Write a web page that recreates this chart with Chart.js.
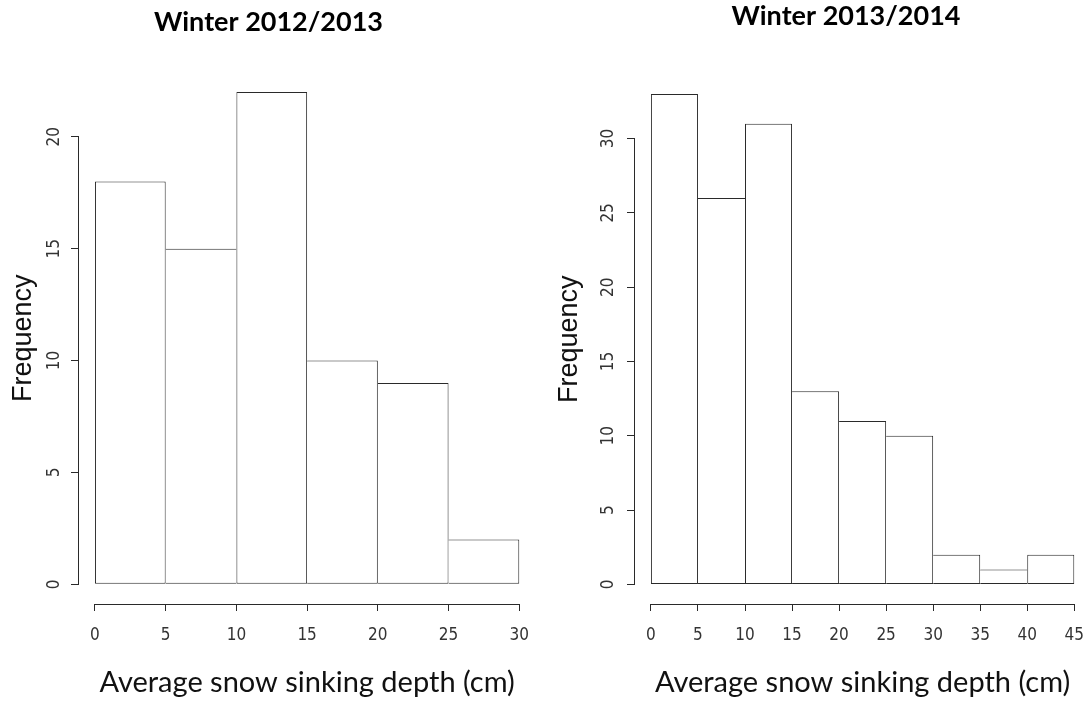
<!DOCTYPE html>
<html>
<head>
<meta charset="utf-8">
<script src="https://cdn.jsdelivr.net/npm/chart.js@4.4.1/dist/chart.umd.min.js"></script>
<style>
  html, body { margin: 0; padding: 0; background: #fff; }
  #wrap { position: relative; width: 1092px; height: 708px; }
  canvas { position: absolute; top: 0; }
  #left { left: 0; }
  #right { left: 546px; }
</style>
</head>
<body>
<div id="wrap">
  <canvas id="left" width="537" height="708"></canvas>
  <canvas id="right" width="546" height="708"></canvas>
</div>
<script>
// histogram breaks and counts
const breaks1213 = [0, 5, 10, 15, 20, 25, 30]
const counts1213 = [18, 15, 22, 10, 9, 2]
const breaks1314 = [0, 5, 10, 15, 20, 25, 30, 35, 40, 45]
const counts1314 = [33, 26, 31, 13, 11, 10, 2, 1, 2]

const lineColor = "#2a2a2a"
const tickFont = { family: "'Liberation Sans Narrow', 'DejaVu Sans Condensed', 'Liberation Sans', Arial, sans-serif", size: 17, lineHeight: 2 }

function align(p) {
    return Math.round(p - 0.5) + 0.5
}

// R style axes: the line only runs from the first to the last tick
const rAxes = {
    id: "rAxes",
    afterDraw(chart) {
        const ctx = chart.ctx
        const x = chart.scales.x
        const y = chart.scales.y
        const xt = x.ticks
        const yt = y.ticks
        ctx.save()
        ctx.strokeStyle = lineColor
        ctx.lineWidth = 1
        ctx.lineCap = "square"
        ctx.beginPath()
        ctx.moveTo(align(x.getPixelForValue(xt[0].value)), align(x.top))
        ctx.lineTo(align(x.getPixelForValue(xt[xt.length - 1].value)), align(x.top))
        ctx.moveTo(align(y.right), align(y.getPixelForValue(yt[0].value)))
        ctx.lineTo(align(y.right), align(y.getPixelForValue(yt[yt.length - 1].value)))
        ctx.stroke()
        ctx.restore()
    }
}

function makeHist(canvasId, title, breaks, counts, opt) {
    const data = counts.map((c, i) => ({ x: (breaks[i] + breaks[i + 1]) / 2, y: c }))
    const xPad = 0.04 * (breaks[breaks.length - 1] - breaks[0])
    const yPad = 0.04 * Math.max(...counts)
    const grid = { display: true, drawOnChartArea: false, drawTicks: true, tickLength: 7, color: lineColor, offset: false }

    return new Chart(document.getElementById(canvasId), {
        type: "bar",
        data: {
            datasets: [{
                data: data,
                backgroundColor: "#ffffff",
                borderColor: lineColor,
                borderSkipped: false,
                inflateAmount: 0,
                barPercentage: 1,
                categoryPercentage: 1,
                // shared edges drawn once, by the taller bar
                borderWidth: (c) => {
                    const i = c.dataIndex
                    return {
                        top: 1,
                        bottom: 1,
                        left: (i === 0 || counts[i] >= counts[i - 1]) ? 1 : 0,
                        right: (i === counts.length - 1 || counts[i] > counts[i + 1]) ? 1 : 0
                    }
                }
            }]
        },
        options: {
            responsive: false,
            animation: false,
            layout: { padding: { left: opt.padLeft, right: 0, top: 0, bottom: 0 } },
            plugins: {
                legend: { display: false },
                tooltip: { enabled: false },
                title: {
                    display: true,
                    text: title,
                    color: "#000",
                    font: { family: "Lato, 'Open Sans', sans-serif", size: 27, weight: "bold" },
                    padding: { top: opt.titleTop, bottom: opt.titleBottom }
                }
            },
            scales: {
                x: {
                    type: "linear",
                    offset: false,
                    min: breaks[0] - xPad,
                    max: breaks[breaks.length - 1] + xPad,
                    afterFit: (s) => { s.height = 104 },
                    grid: grid,
                    border: { display: false },
                    ticks: { stepSize: 5, includeBounds: false, autoSkip: false, maxRotation: 0, padding: 8, color: "#333", font: tickFont },
                    title: {
                        display: true,
                        text: "Average snow sinking depth (cm)",
                        color: "#111",
                        font: { family: "Lato, 'Open Sans', sans-serif", size: 29 },
                        padding: { bottom: 8 }
                    }
                },
                y: {
                    min: -yPad,
                    max: Math.max(...counts) + yPad,
                    afterFit: (s) => { s.width = opt.yWidth },
                    grid: grid,
                    border: { display: false },
                    ticks: { stepSize: 5, includeBounds: false, minRotation: 90, maxRotation: 90, crossAlign: "center", padding: opt.tickPad, color: "#333", font: tickFont },
                    title: {
                        display: true,
                        text: "Frequency",
                        color: "#111",
                        font: { family: "'Liberation Sans', Arial, sans-serif", size: 27 },
                        padding: { top: opt.yTitleTop }
                    }
                }
            }
        },
        plugins: [rAxes]
    })
}

makeHist("left", "Winter 2012/2013", breaks1213, counts1213,
    { padLeft: 0, yWidth: 78, tickPad: 7, yTitleTop: 7, titleTop: 6, titleBottom: 34 })
makeHist("right", "Winter 2013/2014", breaks1314, counts1314,
    { padLeft: 54, yWidth: 34, tickPad: 9, yTitleTop: -47, titleTop: 0, titleBottom: 42 })
</script>
</body>
</html>
